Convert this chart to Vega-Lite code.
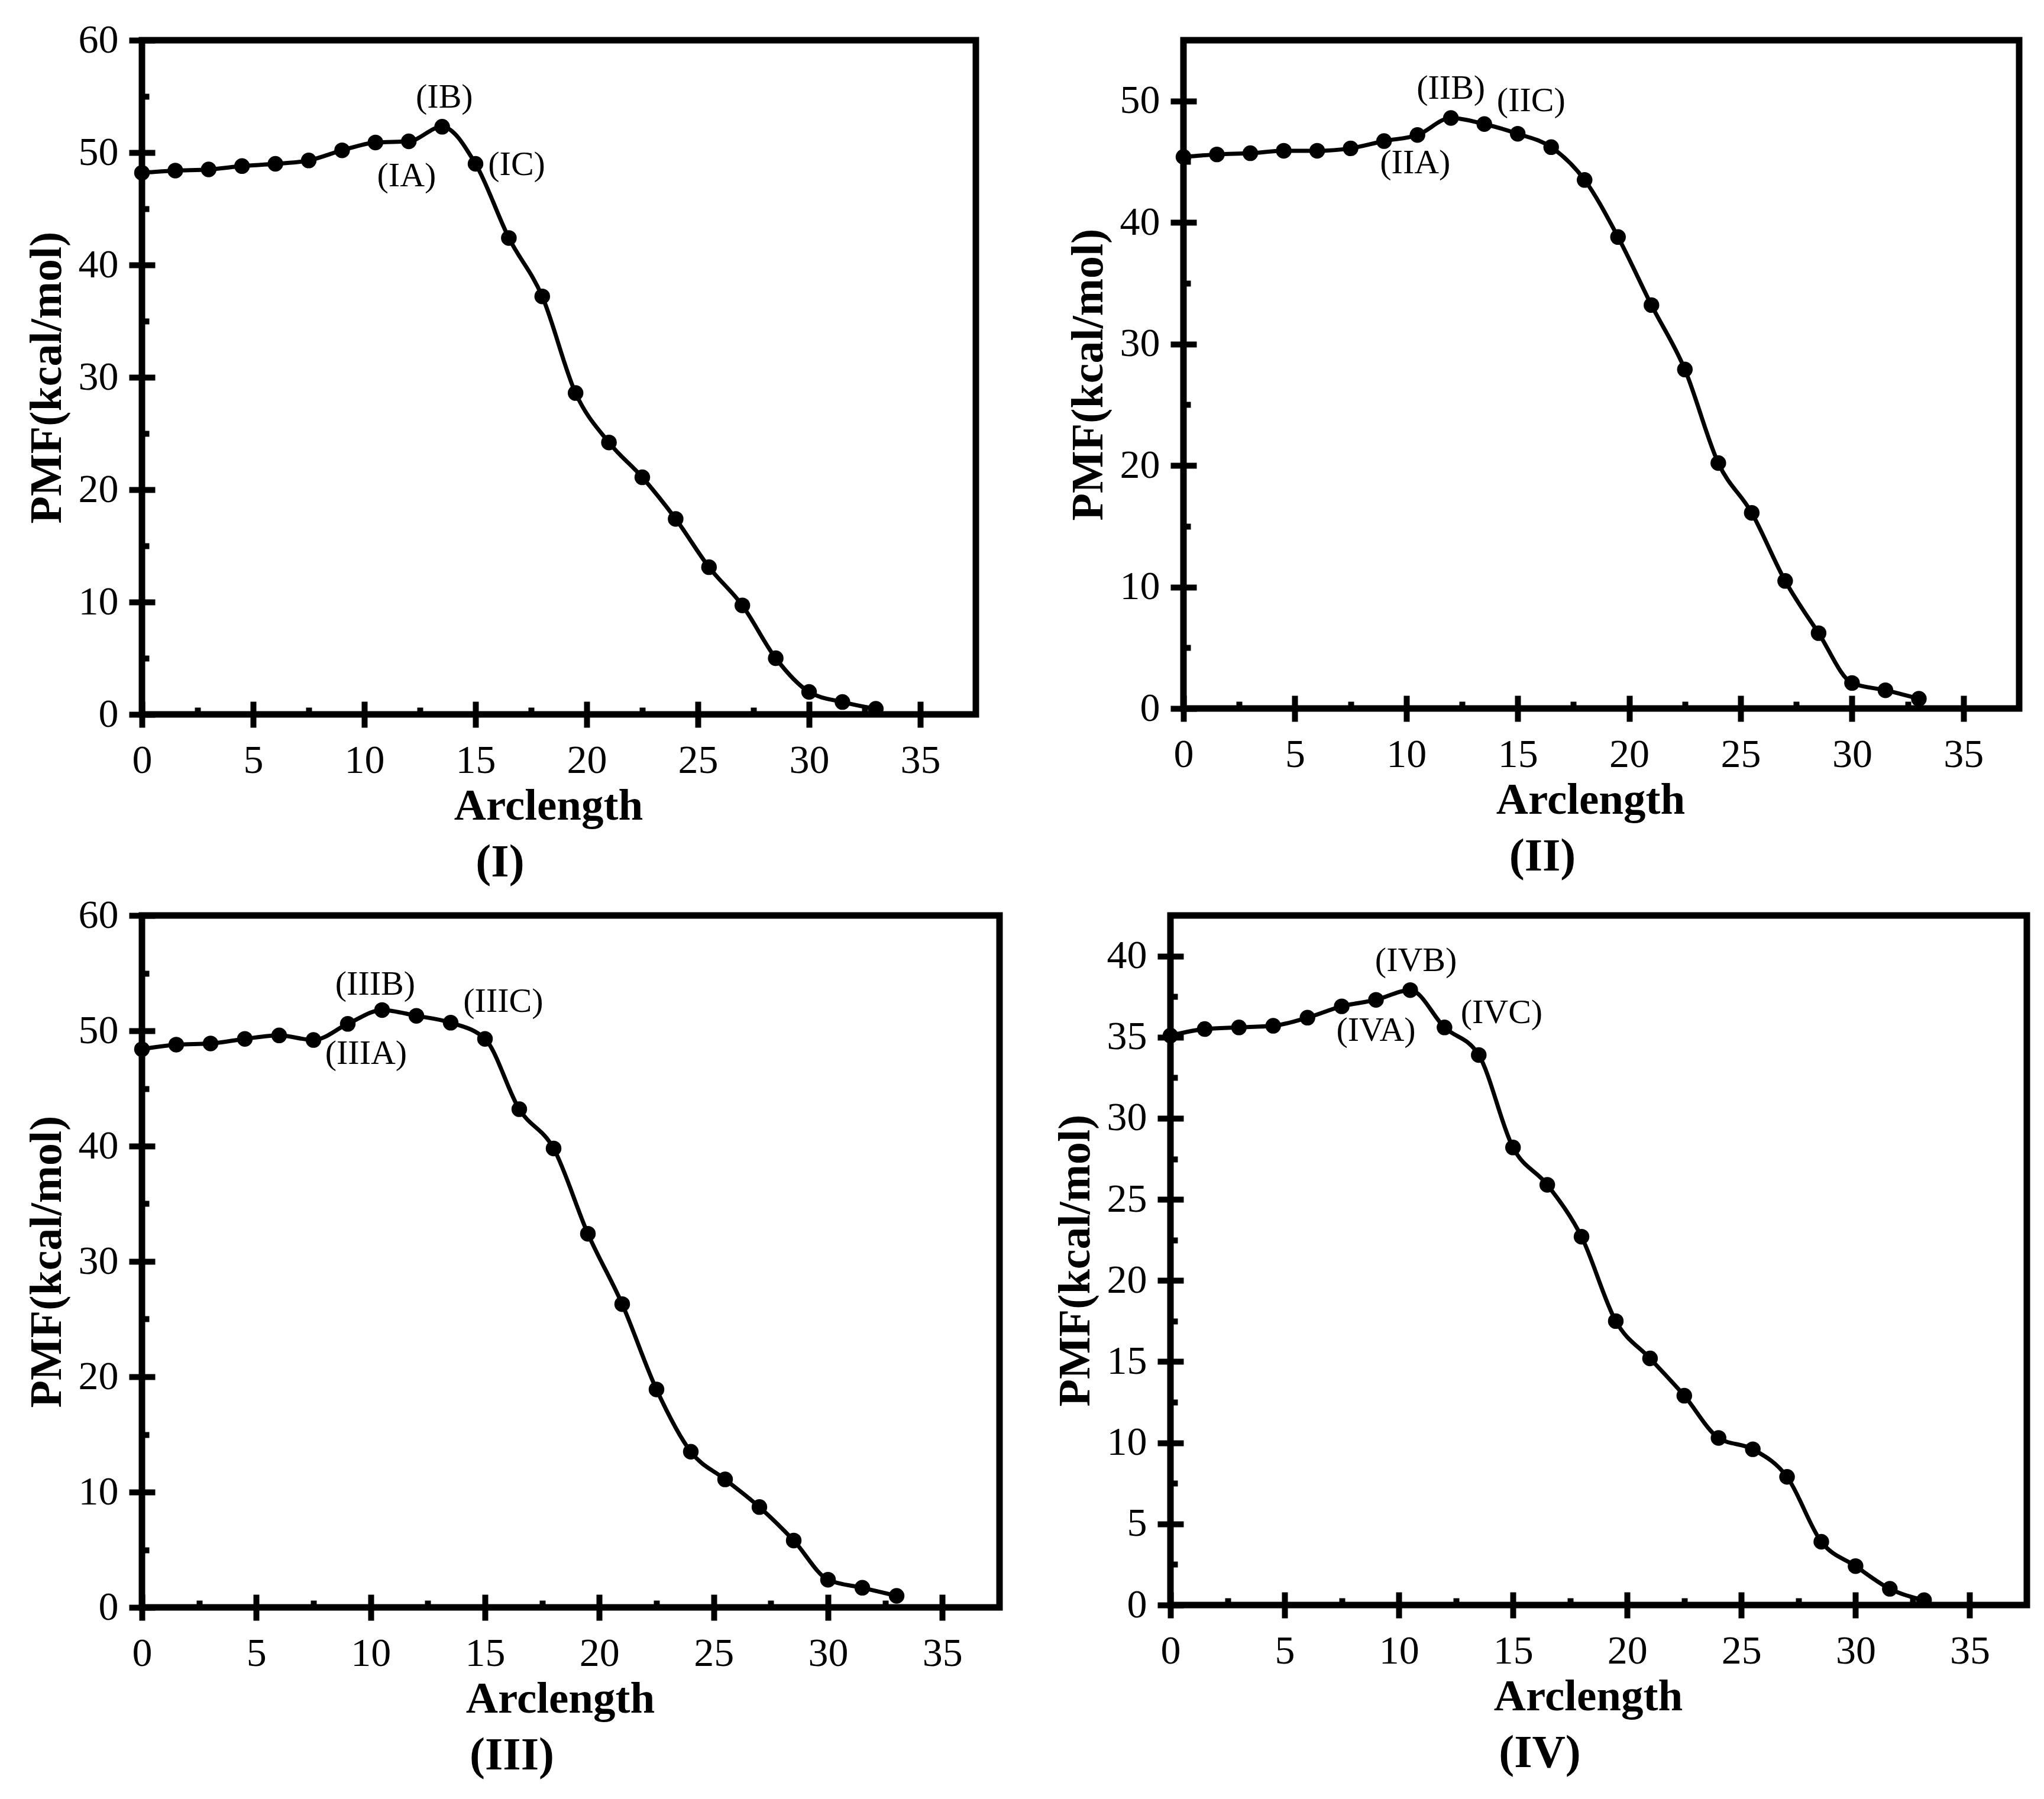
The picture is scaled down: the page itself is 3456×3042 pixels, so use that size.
{
  "$schema": "https://vega.github.io/schema/vega-lite/v6.json",
  "background": "white",
  "padding": {"left": 35, "top": 28, "right": 5, "bottom": 5},
  "config": {
    "view": {"stroke": "black", "strokeWidth": 11},
    "font": "Liberation Serif",
    "axis": {
      "domain": false,
      "grid": false,
      "tickColor": "black",
      "tickWidth": 10,
      "tickSize": 22,
      "labelFont": "Liberation Serif",
      "labelFontSize": 68,
      "labelColor": "black",
      "labelOverlap": false,
      "labelFlush": false,
      "titleFont": "Liberation Serif",
      "titleFontWeight": "bold",
      "titleColor": "black",
      "zindex": 1
    },
    "axisX": {"labelPadding": 22, "titlePadding": 6, "titleFontSize": 75},
    "axisY": {"labelPadding": 18, "titlePadding": 14, "titleFontSize": 76},
    "title": {"orient": "bottom", "frame": "bounds", "font": "Liberation Serif", "fontSize": 78, "fontWeight": "bold", "color": "black", "offset": 20, "anchor": "middle"}
  },
  "datasets": {
    "pmf": [
      {"panel": "I", "arclength": 0, "pmf": 48.2}, {"panel": "I", "arclength": 1.5, "pmf": 48.4}, {"panel": "I", "arclength": 3, "pmf": 48.5},
      {"panel": "I", "arclength": 4.5, "pmf": 48.8}, {"panel": "I", "arclength": 6, "pmf": 49.0}, {"panel": "I", "arclength": 7.5, "pmf": 49.3},
      {"panel": "I", "arclength": 9, "pmf": 50.2}, {"panel": "I", "arclength": 10.5, "pmf": 50.9}, {"panel": "I", "arclength": 12, "pmf": 51.0},
      {"panel": "I", "arclength": 13.5, "pmf": 52.3}, {"panel": "I", "arclength": 15, "pmf": 49.0}, {"panel": "I", "arclength": 16.5, "pmf": 42.4},
      {"panel": "I", "arclength": 18, "pmf": 37.2}, {"panel": "I", "arclength": 19.5, "pmf": 28.6}, {"panel": "I", "arclength": 21, "pmf": 24.2},
      {"panel": "I", "arclength": 22.5, "pmf": 21.1}, {"panel": "I", "arclength": 24, "pmf": 17.4}, {"panel": "I", "arclength": 25.5, "pmf": 13.1},
      {"panel": "I", "arclength": 27, "pmf": 9.7}, {"panel": "I", "arclength": 28.5, "pmf": 5.0}, {"panel": "I", "arclength": 30, "pmf": 2.0},
      {"panel": "I", "arclength": 31.5, "pmf": 1.1}, {"panel": "I", "arclength": 33, "pmf": 0.5},
      {"panel": "II", "arclength": 0, "pmf": 45.4}, {"panel": "II", "arclength": 1.5, "pmf": 45.6}, {"panel": "II", "arclength": 3, "pmf": 45.7},
      {"panel": "II", "arclength": 4.5, "pmf": 45.9}, {"panel": "II", "arclength": 6, "pmf": 45.9}, {"panel": "II", "arclength": 7.5, "pmf": 46.1},
      {"panel": "II", "arclength": 9, "pmf": 46.7}, {"panel": "II", "arclength": 10.5, "pmf": 47.2}, {"panel": "II", "arclength": 12, "pmf": 48.6},
      {"panel": "II", "arclength": 13.5, "pmf": 48.1}, {"panel": "II", "arclength": 15, "pmf": 47.3}, {"panel": "II", "arclength": 16.5, "pmf": 46.2},
      {"panel": "II", "arclength": 18, "pmf": 43.5}, {"panel": "II", "arclength": 19.5, "pmf": 38.8}, {"panel": "II", "arclength": 21, "pmf": 33.2},
      {"panel": "II", "arclength": 22.5, "pmf": 27.9}, {"panel": "II", "arclength": 24, "pmf": 20.2}, {"panel": "II", "arclength": 25.5, "pmf": 16.1},
      {"panel": "II", "arclength": 27, "pmf": 10.5}, {"panel": "II", "arclength": 28.5, "pmf": 6.2}, {"panel": "II", "arclength": 30, "pmf": 2.1},
      {"panel": "II", "arclength": 31.5, "pmf": 1.5}, {"panel": "II", "arclength": 33, "pmf": 0.8},
      {"panel": "III", "arclength": 0, "pmf": 48.4}, {"panel": "III", "arclength": 1.5, "pmf": 48.8}, {"panel": "III", "arclength": 3, "pmf": 48.9},
      {"panel": "III", "arclength": 4.5, "pmf": 49.3}, {"panel": "III", "arclength": 6, "pmf": 49.6}, {"panel": "III", "arclength": 7.5, "pmf": 49.2},
      {"panel": "III", "arclength": 9, "pmf": 50.6}, {"panel": "III", "arclength": 10.5, "pmf": 51.8}, {"panel": "III", "arclength": 12, "pmf": 51.3},
      {"panel": "III", "arclength": 13.5, "pmf": 50.7}, {"panel": "III", "arclength": 15, "pmf": 49.3}, {"panel": "III", "arclength": 16.5, "pmf": 43.2},
      {"panel": "III", "arclength": 18, "pmf": 39.8}, {"panel": "III", "arclength": 19.5, "pmf": 32.4}, {"panel": "III", "arclength": 21, "pmf": 26.3},
      {"panel": "III", "arclength": 22.5, "pmf": 18.9}, {"panel": "III", "arclength": 24, "pmf": 13.5}, {"panel": "III", "arclength": 25.5, "pmf": 11.1},
      {"panel": "III", "arclength": 27, "pmf": 8.7}, {"panel": "III", "arclength": 28.5, "pmf": 5.8}, {"panel": "III", "arclength": 30, "pmf": 2.4},
      {"panel": "III", "arclength": 31.5, "pmf": 1.7}, {"panel": "III", "arclength": 33, "pmf": 1.0},
      {"panel": "IV", "arclength": 0, "pmf": 35.1}, {"panel": "IV", "arclength": 1.5, "pmf": 35.5}, {"panel": "IV", "arclength": 3, "pmf": 35.6},
      {"panel": "IV", "arclength": 4.5, "pmf": 35.7}, {"panel": "IV", "arclength": 6, "pmf": 36.2}, {"panel": "IV", "arclength": 7.5, "pmf": 36.9},
      {"panel": "IV", "arclength": 9, "pmf": 37.3}, {"panel": "IV", "arclength": 10.5, "pmf": 37.9}, {"panel": "IV", "arclength": 12, "pmf": 35.6},
      {"panel": "IV", "arclength": 13.5, "pmf": 33.9}, {"panel": "IV", "arclength": 15, "pmf": 28.2}, {"panel": "IV", "arclength": 16.5, "pmf": 25.9},
      {"panel": "IV", "arclength": 18, "pmf": 22.7}, {"panel": "IV", "arclength": 19.5, "pmf": 17.5}, {"panel": "IV", "arclength": 21, "pmf": 15.2},
      {"panel": "IV", "arclength": 22.5, "pmf": 12.9}, {"panel": "IV", "arclength": 24, "pmf": 10.3}, {"panel": "IV", "arclength": 25.5, "pmf": 9.6},
      {"panel": "IV", "arclength": 27, "pmf": 7.9}, {"panel": "IV", "arclength": 28.5, "pmf": 3.9}, {"panel": "IV", "arclength": 30, "pmf": 2.4},
      {"panel": "IV", "arclength": 31.5, "pmf": 1.0}, {"panel": "IV", "arclength": 33, "pmf": 0.3}
    ],
    "labels": [
      {"panel": "I", "arclength": 13.6, "pmf": 54.9, "label": "(IB)"},
      {"panel": "I", "arclength": 11.9, "pmf": 47.9, "label": "(IA)"},
      {"panel": "I", "arclength": 16.85, "pmf": 48.9, "label": "(IC)"},
      {"panel": "II", "arclength": 12.0, "pmf": 51.0, "label": "(IIB)"},
      {"panel": "II", "arclength": 15.6, "pmf": 50.0, "label": "(IIC)"},
      {"panel": "II", "arclength": 10.4, "pmf": 44.9, "label": "(IIA)"},
      {"panel": "III", "arclength": 10.2, "pmf": 54.0, "label": "(IIIB)"},
      {"panel": "III", "arclength": 15.8, "pmf": 52.5, "label": "(IIIC)"},
      {"panel": "III", "arclength": 9.8, "pmf": 48.0, "label": "(IIIA)"},
      {"panel": "IV", "arclength": 10.75, "pmf": 39.7, "label": "(IVB)"},
      {"panel": "IV", "arclength": 14.5, "pmf": 36.5, "label": "(IVC)"},
      {"panel": "IV", "arclength": 9.0, "pmf": 35.4, "label": "(IVA)"}
    ]
  },
  "spacing": 4,
  "vconcat": [
    {
      "spacing": 140,
      "hconcat": [
        {
          "width": 1410,
          "height": 1140,
          "title": "(I)",
          "resolve": {"axis": {"x": "independent", "y": "independent"}},
          "layer": [
            {"data": {"name": "pmf"}, "transform": [{"filter": "datum.panel === 'I'"}],
              "mark": {"type": "line", "interpolate": "monotone", "color": "black", "strokeWidth": 7},
              "encoding": {
                "x": {"field": "arclength", "type": "quantitative", "scale": {"domain": [0, 37.5], "nice": false},
                  "axis": {"orient": "bottom", "title": "Arclength", "titleX": 687, "values": [0, 5, 10, 15, 20, 25, 30, 35]}},
                "y": {"field": "pmf", "type": "quantitative", "scale": {"domain": [0, 60], "nice": false},
                  "axis": {"orient": "left", "title": "PMF(kcal/mol)", "values": [0, 10, 20, 30, 40, 50, 60]}}
              }},
            {"data": {"name": "pmf"}, "transform": [{"filter": "datum.panel === 'I'"}],
              "mark": {"type": "circle", "size": 700, "color": "black", "opacity": 1},
              "encoding": {
                "x": {"field": "arclength", "type": "quantitative", "scale": {"domain": [0, 37.5], "nice": false},
                  "axis": {"orient": "bottom", "title": null, "labels": false, "tickSize": -22, "values": [0, 5, 10, 15, 20, 25, 30, 35]}},
                "y": {"field": "pmf", "type": "quantitative", "scale": {"domain": [0, 60], "nice": false},
                  "axis": {"orient": "left", "title": null, "labels": false, "tickSize": -22, "values": [0, 10, 20, 30, 40, 50, 60]}}
              }},
            {"data": {"name": "labels"}, "transform": [{"filter": "datum.panel === 'I'"}],
              "mark": {"type": "text", "font": "Liberation Serif", "fontSize": 58, "color": "black"},
              "encoding": {
                "x": {"field": "arclength", "type": "quantitative", "scale": {"domain": [0, 37.5], "nice": false},
                  "axis": {"orient": "bottom", "title": null, "labels": false, "tickSize": -12, "values": [2.5, 7.5, 12.5, 17.5, 22.5, 27.5, 32.5]}},
                "y": {"field": "pmf", "type": "quantitative", "scale": {"domain": [0, 60], "nice": false},
                  "axis": {"orient": "left", "title": null, "labels": false, "tickSize": -12, "values": [5, 15, 25, 35, 45, 55]}},
                "text": {"field": "label"}
              }}
          ]
        },
        {
          "width": 1413,
          "height": 1130,
          "title": "(II)",
          "resolve": {"axis": {"x": "independent", "y": "independent"}},
          "layer": [
            {"data": {"name": "pmf"}, "transform": [{"filter": "datum.panel === 'II'"}],
              "mark": {"type": "line", "interpolate": "monotone", "color": "black", "strokeWidth": 7},
              "encoding": {
                "x": {"field": "arclength", "type": "quantitative", "scale": {"domain": [0, 37.5], "nice": false},
                  "axis": {"orient": "bottom", "title": "Arclength", "titleX": 688, "values": [0, 5, 10, 15, 20, 25, 30, 35]}},
                "y": {"field": "pmf", "type": "quantitative", "scale": {"domain": [0, 55], "nice": false},
                  "axis": {"orient": "left", "title": "PMF(kcal/mol)", "values": [0, 10, 20, 30, 40, 50]}}
              }},
            {"data": {"name": "pmf"}, "transform": [{"filter": "datum.panel === 'II'"}],
              "mark": {"type": "circle", "size": 700, "color": "black", "opacity": 1},
              "encoding": {
                "x": {"field": "arclength", "type": "quantitative", "scale": {"domain": [0, 37.5], "nice": false},
                  "axis": {"orient": "bottom", "title": null, "labels": false, "tickSize": -22, "values": [0, 5, 10, 15, 20, 25, 30, 35]}},
                "y": {"field": "pmf", "type": "quantitative", "scale": {"domain": [0, 55], "nice": false},
                  "axis": {"orient": "left", "title": null, "labels": false, "tickSize": -22, "values": [0, 10, 20, 30, 40, 50]}}
              }},
            {"data": {"name": "labels"}, "transform": [{"filter": "datum.panel === 'II'"}],
              "mark": {"type": "text", "font": "Liberation Serif", "fontSize": 58, "color": "black"},
              "encoding": {
                "x": {"field": "arclength", "type": "quantitative", "scale": {"domain": [0, 37.5], "nice": false},
                  "axis": {"orient": "bottom", "title": null, "labels": false, "tickSize": -12, "values": [2.5, 7.5, 12.5, 17.5, 22.5, 27.5, 32.5]}},
                "y": {"field": "pmf", "type": "quantitative", "scale": {"domain": [0, 55], "nice": false},
                  "axis": {"orient": "left", "title": null, "labels": false, "tickSize": -12, "values": [5, 15, 25, 35, 45]}},
                "text": {"field": "label"}
              }}
          ]
        }
      ]
    },
    {
      "spacing": 78,
      "hconcat": [
        {
          "width": 1450,
          "height": 1170,
          "title": "(III)",
          "resolve": {"axis": {"x": "independent", "y": "independent"}},
          "layer": [
            {"data": {"name": "pmf"}, "transform": [{"filter": "datum.panel === 'III'"}],
              "mark": {"type": "line", "interpolate": "monotone", "color": "black", "strokeWidth": 7},
              "encoding": {
                "x": {"field": "arclength", "type": "quantitative", "scale": {"domain": [0, 37.5], "nice": false},
                  "axis": {"orient": "bottom", "title": "Arclength", "titleX": 707, "values": [0, 5, 10, 15, 20, 25, 30, 35]}},
                "y": {"field": "pmf", "type": "quantitative", "scale": {"domain": [0, 60], "nice": false},
                  "axis": {"orient": "left", "title": "PMF(kcal/mol)", "values": [0, 10, 20, 30, 40, 50, 60]}}
              }},
            {"data": {"name": "pmf"}, "transform": [{"filter": "datum.panel === 'III'"}],
              "mark": {"type": "circle", "size": 700, "color": "black", "opacity": 1},
              "encoding": {
                "x": {"field": "arclength", "type": "quantitative", "scale": {"domain": [0, 37.5], "nice": false},
                  "axis": {"orient": "bottom", "title": null, "labels": false, "tickSize": -22, "values": [0, 5, 10, 15, 20, 25, 30, 35]}},
                "y": {"field": "pmf", "type": "quantitative", "scale": {"domain": [0, 60], "nice": false},
                  "axis": {"orient": "left", "title": null, "labels": false, "tickSize": -22, "values": [0, 10, 20, 30, 40, 50, 60]}}
              }},
            {"data": {"name": "labels"}, "transform": [{"filter": "datum.panel === 'III'"}],
              "mark": {"type": "text", "font": "Liberation Serif", "fontSize": 58, "color": "black"},
              "encoding": {
                "x": {"field": "arclength", "type": "quantitative", "scale": {"domain": [0, 37.5], "nice": false},
                  "axis": {"orient": "bottom", "title": null, "labels": false, "tickSize": -12, "values": [2.5, 7.5, 12.5, 17.5, 22.5, 27.5, 32.5]}},
                "y": {"field": "pmf", "type": "quantitative", "scale": {"domain": [0, 60], "nice": false},
                  "axis": {"orient": "left", "title": null, "labels": false, "tickSize": -12, "values": [5, 15, 25, 35, 45, 55]}},
                "text": {"field": "label"}
              }}
          ]
        },
        {
          "width": 1448,
          "height": 1166,
          "title": "(IV)",
          "resolve": {"axis": {"x": "independent", "y": "independent"}},
          "layer": [
            {"data": {"name": "pmf"}, "transform": [{"filter": "datum.panel === 'IV'"}],
              "mark": {"type": "line", "interpolate": "monotone", "color": "black", "strokeWidth": 7},
              "encoding": {
                "x": {"field": "arclength", "type": "quantitative", "scale": {"domain": [0, 37.5], "nice": false},
                  "axis": {"orient": "bottom", "title": "Arclength", "titleX": 706, "values": [0, 5, 10, 15, 20, 25, 30, 35]}},
                "y": {"field": "pmf", "type": "quantitative", "scale": {"domain": [0, 42.5], "nice": false},
                  "axis": {"orient": "left", "title": "PMF(kcal/mol)", "values": [0, 5, 10, 15, 20, 25, 30, 35, 40]}}
              }},
            {"data": {"name": "pmf"}, "transform": [{"filter": "datum.panel === 'IV'"}],
              "mark": {"type": "circle", "size": 700, "color": "black", "opacity": 1},
              "encoding": {
                "x": {"field": "arclength", "type": "quantitative", "scale": {"domain": [0, 37.5], "nice": false},
                  "axis": {"orient": "bottom", "title": null, "labels": false, "tickSize": -22, "values": [0, 5, 10, 15, 20, 25, 30, 35]}},
                "y": {"field": "pmf", "type": "quantitative", "scale": {"domain": [0, 42.5], "nice": false},
                  "axis": {"orient": "left", "title": null, "labels": false, "tickSize": -22, "values": [0, 5, 10, 15, 20, 25, 30, 35, 40]}}
              }},
            {"data": {"name": "labels"}, "transform": [{"filter": "datum.panel === 'IV'"}],
              "mark": {"type": "text", "font": "Liberation Serif", "fontSize": 58, "color": "black"},
              "encoding": {
                "x": {"field": "arclength", "type": "quantitative", "scale": {"domain": [0, 37.5], "nice": false},
                  "axis": {"orient": "bottom", "title": null, "labels": false, "tickSize": -12, "values": [2.5, 7.5, 12.5, 17.5, 22.5, 27.5, 32.5]}},
                "y": {"field": "pmf", "type": "quantitative", "scale": {"domain": [0, 42.5], "nice": false},
                  "axis": {"orient": "left", "title": null, "labels": false, "tickSize": -12, "values": [2.5, 7.5, 12.5, 17.5, 22.5, 27.5, 32.5, 37.5]}},
                "text": {"field": "label"}
              }}
          ]
        }
      ]
    }
  ]
}
